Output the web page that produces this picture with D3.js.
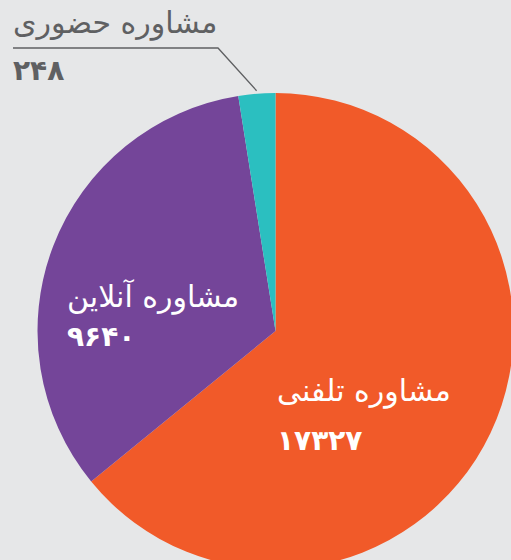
<!DOCTYPE html>
<html><head><meta charset="utf-8">
<script src="https://cdn.jsdelivr.net/npm/d3@7"></script>
<style>
html,body{margin:0;padding:0;background:#e6e7e8;}
svg{display:block;}
</style></head>
<body>
<script>
const categories = ["مشاوره تلفنی", "مشاوره آنلاین", "مشاوره حضوری"];
const values = [17327, 9640, 248];
const valueLabels = ["۱۷۳۲۷", "۹۶۴۰", "۲۴۸"];
// slice shares (%) as drawn in the picture (small slice enlarged in the original)
const sliceShares = [64.1, 33.4, 2.5];
const colors = ["#f15a29", "#744599", "#2bbfc0"];

const W = 511, H = 560;
const cx = 275.5, cy = 331, R = 238;
const svg = d3.select("body").append("svg").attr("width", W).attr("height", H);
svg.append("rect").attr("width", W).attr("height", H).attr("fill", "#e6e7e8");

const pie = d3.pie().sort(null).value(d => d)(sliceShares);
const arc = d3.arc().innerRadius(0).outerRadius(R);
const g = svg.append("g").attr("transform", `translate(${cx},${cy})`);
g.selectAll("path").data(pie).join("path")
  .attr("d", arc).attr("fill", (d, i) => colors[i]);

const font = "'DejaVu Sans', sans-serif";
const labelPos = [
  {x: 277, ty: 401, ny: 450, fill: "#ffffff"},
  {x: 67, ty: 307, ny: 346, fill: "#ffffff"},
  {x: 13, ty: 33, ny: 80, fill: "#5f6062"}
];
categories.forEach((c, i) => {
  const p = labelPos[i];
  svg.append("text").attr("x", p.x).attr("y", p.ty)
    .attr("font-family", font).attr("font-size", 30).attr("fill", p.fill)
    .text(c);
  svg.append("text").attr("x", p.x).attr("y", p.ny)
    .attr("font-family", font).attr("font-size", 28).attr("font-weight", "bold").attr("fill", p.fill)
    .text(valueLabels[i]);
});

// leader line for small slice
const small = pie[2];
const midA = (small.startAngle + small.endAngle) / 2;
const ex = cx + Math.sin(midA) * (R + 3), ey = cy - Math.cos(midA) * (R + 3);
svg.append("polyline")
  .attr("points", `13,48 218,48 ${ex},${ey}`)
  .attr("fill", "none").attr("stroke", "#5f6062").attr("stroke-width", 1.3);
</script>
</body></html>
